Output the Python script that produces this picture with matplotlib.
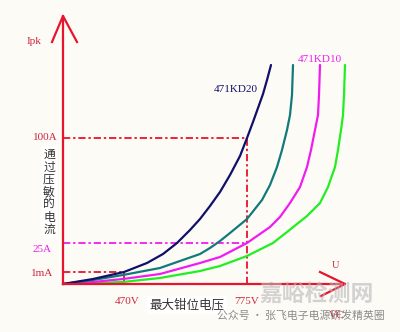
import matplotlib
matplotlib.use("Agg")
import matplotlib.pyplot as plt

plt.rcParams['font.family'] = ['Noto Sans CJK SC', 'DejaVu Sans']

# V-I curves of the varistors, in chart units (origin at the axes corner)
kd20_x = [0, 30, 61, 84, 100, 114, 127, 137, 147, 157, 167, 177, 184, 190, 195, 200, 204, 208]
kd20_y = [0, 5, 12, 21, 30, 41, 54, 65, 78, 92, 109, 128, 146, 162, 176, 190, 204, 219]
teal_x = [0, 30, 60, 97, 137, 147, 157, 167, 184, 199, 207, 214, 219, 224, 227, 229, 230]
teal_y = [0, 4, 9, 16, 30, 36, 43, 51, 65, 84, 99, 117, 134, 154, 169, 189, 219]
kd10_x = [0, 30, 60, 97, 137, 157, 184, 207, 217, 227, 237, 244, 248, 252, 255, 256, 257]
kd10_y = [0, 2, 5, 10, 21, 27, 41, 57, 67, 81, 97, 117, 134, 154, 169, 189, 219]
green_x = [0, 30, 60, 97, 137, 157, 184, 210, 224, 244, 257, 265, 272, 275, 278, 280, 281, 282]
green_y = [0, 1, 2, 6, 13, 18, 28, 41, 52, 68, 81, 97, 117, 134, 154, 169, 189, 219]

# reference levels
v470, v775 = 61, 184
i_1ma, i_25a, i_100a = 12, 41, 146
x_end, y_end = 282, 268

RED = '#e8132d'
TXT_RED = '#cc2640'
NAVY = '#10106a'
TEAL = '#137a7a'
MAGENTA = '#f01cf0'
GREEN = '#22ee22'
BG = '#fdfbf6'

fig = plt.figure(figsize=(4, 3.32), dpi=100, facecolor=BG)
ax = fig.add_axes([0, 0, 1, 1])
ax.set_facecolor(BG)
ax.set_xlim(-63, 337)
ax.set_ylim(-48, 284)
ax.axis('off')

serif = ['Liberation Serif', 'DejaVu Serif']
dd = (0, (4, 1.6, 1.3, 1.6))

# guide lines
ax.plot([0, v775], [i_100a, i_100a], color=RED, lw=1.3, ls=dd)
ax.plot([v775, v775], [0, i_100a], color=RED, lw=1.3, ls=dd)
ax.plot([0, v775], [i_25a, i_25a], color=MAGENTA, lw=1.3, ls=dd)
ax.plot([0, v470], [i_1ma, i_1ma], color=RED, lw=1.3, ls=dd)
ax.plot([v470, v470], [0, i_1ma], color=RED, lw=1.3)

# curves
for cx, cy, c in [(green_x, green_y, GREEN), (kd10_x, kd10_y, MAGENTA),
                  (teal_x, teal_y, TEAL), (kd20_x, kd20_y, NAVY)]:
    ax.plot(cx, cy, color=c, lw=1.6, solid_capstyle='round', solid_joinstyle='round')

# axes with open arrow heads
ax.plot([0, 0], [0, y_end], color=RED, lw=1.6)
ax.plot([-11, 0, 14], [242, y_end, 242], color=RED, lw=1.6)
ax.plot([0, x_end], [0, 0], color=RED, lw=1.6)
ax.plot([257, x_end, 258], [12, 0, -12], color=RED, lw=1.6)

# labels
ax.text(-29, 243, 'Ipk', color=TXT_RED, fontsize=8, family=serif, ha='center', va='center')
ax.text(-5, 146, '100A', color=TXT_RED, fontsize=8, family=serif, ha='right', va='center')
ax.text(-11, 35, '25A', color=MAGENTA, fontsize=8, family=serif, ha='right', va='center')
ax.text(-10, 10, '1mA', color=TXT_RED, fontsize=8, family=serif, ha='right', va='center')
ax.text(64, -18, '470V', color=TXT_RED, fontsize=8, family=serif, ha='center', va='center')
ax.text(184, -18, '775V', color=TXT_RED, fontsize=8, family=serif, ha='center', va='center')
ax.text(272, 19, 'U', color=TXT_RED, fontsize=7.5, family=serif, ha='center', va='center')
ax.text(274, -31, 'VC', color=TXT_RED, fontsize=8, family=serif, ha='center', va='center')
ax.text(173, 195, '471KD20', color=NAVY, fontsize=8, family=serif, ha='center', va='center')
ax.text(257, 225, '471KD10', color=MAGENTA, fontsize=8, family=serif, ha='center', va='center')

ax.text(124, -21, '最大钳位电压', color='#333333', fontsize=9, ha='center', va='center',
        bbox=dict(facecolor='white', edgecolor='none', pad=2))
ax.text(-14, 92, '\n'.join('通过压敏的电流'), color='#333333', fontsize=8.5,
        ha='center', va='center', linespacing=0.95,
        bbox=dict(facecolor='white', edgecolor='none', pad=1.5))

# watermark
ax.text(254, -10, '嘉峪检测网', color='#b8b8b8', alpha=0.6, fontsize=16.5,
        fontweight='bold', ha='center', va='center')
ax.text(238, -32, '公众号 · 张飞电子电源研发精英圈', color='#666666', alpha=0.75,
        fontsize=7.8, ha='center', va='center')

fig.savefig('out.png', dpi=100, facecolor=BG)
